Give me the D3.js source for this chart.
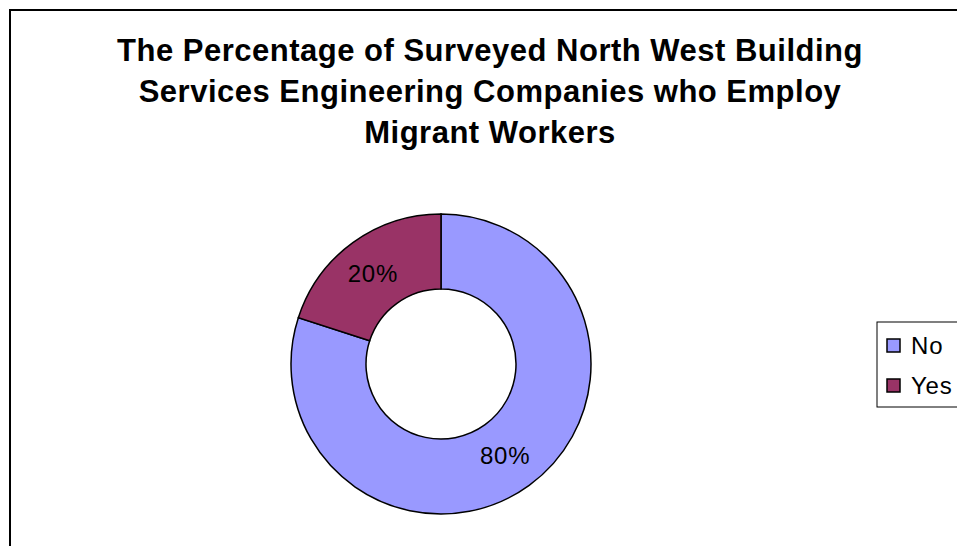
<!DOCTYPE html>
<html>
<head>
<meta charset="utf-8">
<script src="https://cdn.jsdelivr.net/npm/d3@7"></script>
<style>
  body { margin: 0; background: #fff; }
  svg { display: block; font-family: "Liberation Sans", Arial, sans-serif; }
</style>
</head>
<body>
<div id="main"></div>
<script>
var categories = ["No", "Yes"];
var values = [80, 20];
var colors = ["#9999ff", "#993366"];
var titleLines = [
  "The Percentage of Surveyed North West Building",
  "Services Engineering Companies who Employ",
  "Migrant Workers"
];

var W = 957, H = 546;
var cx = 441, cy = 364, rOuter = 150, rInner = 75;

var svg = d3.select("#main").append("svg")
  .attr("width", W)
  .attr("height", H);

// chart frame (runs off right and bottom)
svg.append("rect")
  .attr("x", 10).attr("y", 10)
  .attr("width", 980).attr("height", 580)
  .attr("fill", "#fff")
  .attr("stroke", "#000")
  .attr("stroke-width", 2);

svg.append("g").selectAll("text")
  .data(titleLines)
  .join("text")
  .attr("x", 490)
  .attr("y", function(d, i) { return 61 + i * 41; })
  .attr("text-anchor", "middle")
  .attr("font-size", 31)
  .attr("letter-spacing", 0.5)
  .attr("font-weight", "bold")
  .attr("fill", "#000")
  .text(function(d) { return d; });

var color = d3.scaleOrdinal().domain(categories).range(colors);

var pie = d3.pie().sort(null).value(function(d) { return d.v; });
var data = pie(categories.map(function(c, i) { return { c: c, v: values[i] }; }));
var arc = d3.arc().innerRadius(rInner).outerRadius(rOuter);

var g = svg.append("g").attr("transform", "translate(" + cx + "," + cy + ")");

g.selectAll("path")
  .data(data)
  .join("path")
  .attr("d", arc)
  .attr("fill", function(d) { return color(d.data.c); })
  .attr("stroke", "#000")
  .attr("stroke-width", 1.5);

var total = d3.sum(values);
g.selectAll("text.lbl")
  .data(data)
  .join("text")
  .attr("class", "lbl")
  .attr("transform", function(d) {
    var p = arc.centroid(d);
    return "translate(" + (p[0] - 2) + "," + (p[1] + 1) + ")";
  })
  .attr("text-anchor", "middle")
  .attr("dy", "0.35em")
  .attr("font-size", 24)
  .attr("letter-spacing", 0.8)
  .attr("fill", "#000")
  .text(function(d) { return Math.round(d.data.v / total * 100) + "%"; });

// legend
var legend = svg.append("g");
legend.append("rect")
  .attr("x", 877).attr("y", 322)
  .attr("width", 100).attr("height", 85)
  .attr("fill", "#fff")
  .attr("stroke", "#000")
  .attr("stroke-width", 1);

var items = legend.selectAll("g.item")
  .data(categories)
  .join("g")
  .attr("class", "item")
  .attr("transform", function(d, i) { return "translate(887," + (339 + i * 40) + ")"; });

items.append("rect")
  .attr("width", 13).attr("height", 13)
  .attr("fill", function(d) { return color(d); })
  .attr("stroke", "#000")
  .attr("stroke-width", 1.5);

items.append("text")
  .attr("x", 24)
  .attr("y", 15)
  .attr("font-size", 24)
  .attr("letter-spacing", 0.8)
  .attr("fill", "#000")
  .text(function(d) { return d; });
</script>
</body>
</html>
